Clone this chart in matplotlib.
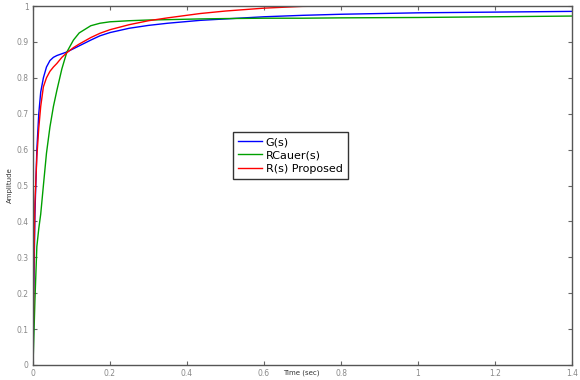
import matplotlib
matplotlib.use("Agg")
import matplotlib.pyplot as plt

# Step response data
time = [0, 0.002, 0.005, 0.01, 0.015, 0.02, 0.027, 0.035, 0.044, 0.053, 0.062,
        0.075, 0.088, 0.105, 0.12, 0.15, 0.174, 0.2, 0.25, 0.3, 0.35, 0.434,
        0.5, 0.6, 0.7, 0.8, 1.0, 1.2, 1.4]
g_s = [0, 0.2, 0.42, 0.6, 0.7, 0.76, 0.80, 0.83, 0.848, 0.857, 0.862,
       0.867, 0.872, 0.881, 0.889, 0.905, 0.917, 0.926, 0.938, 0.946, 0.952, 0.960,
       0.964, 0.970, 0.974, 0.977, 0.981, 0.983, 0.985]
r_cauer = [0, 0.07, 0.18, 0.33, 0.38, 0.42, 0.50, 0.59, 0.663, 0.72, 0.765,
           0.825, 0.872, 0.905, 0.925, 0.945, 0.952, 0.956, 0.959, 0.961, 0.962, 0.964,
           0.965, 0.966, 0.966, 0.967, 0.968, 0.970, 0.972]
r_proposed = [0, 0.25, 0.45, 0.58, 0.66, 0.72, 0.775, 0.80, 0.818, 0.83, 0.84,
              0.857, 0.870, 0.884, 0.894, 0.912, 0.924, 0.934, 0.948, 0.959, 0.967, 0.979,
              0.986, 0.994, 0.999, 1.0, 1.0, 1.0, 1.0]

x_ticks = [0, 0.2, 0.4, 0.6, 0.8, 1, 1.2, 1.4]
x_labels = ["0", "0.2", "0.4", "0.6", "0.8", "1", "1.2", "1.4"]
y_ticks = [0, 0.1, 0.2, 0.3, 0.4, 0.5, 0.6, 0.7, 0.8, 0.9, 1]
y_labels = ["0", "0.1", "0.2", "0.3", "0.4", "0.5", "0.6", "0.7", "0.8", "0.9", "1"]

fig = plt.figure(figsize=(5.8, 3.8), dpi=100)
ax = fig.add_axes([33 / 580, 15 / 380, 539 / 580, 359 / 380])

ax.plot(time, g_s, color="#0000ff", lw=1.0, label="G(s)")
ax.plot(time, r_cauer, color="#00a000", lw=1.0, label="RCauer(s)")
ax.plot(time, r_proposed, color="#ff0000", lw=1.0, label="R(s) Proposed")

ax.set_xlim(0, 1.4)
ax.set_ylim(0, 1)
ax.set_xticks(x_ticks)
ax.set_xticklabels(x_labels)
ax.set_yticks(y_ticks)
ax.set_yticklabels(y_labels)
ax.tick_params(direction="in", length=3, width=0.8, colors="#666666",
               labelcolor="#888888", labelsize=5.5, top=True, right=True, pad=3)

for sp in ax.spines.values():
    sp.set_color("#555555")
    sp.set_linewidth(1.0)

ax.set_xlabel("Time (sec)", fontsize=5, color="#333333")
ax.xaxis.set_label_coords(0.498, -0.012)
ax.set_ylabel("Amplitude", fontsize=5, color="#333333")
ax.yaxis.set_label_coords(-0.038, 0.5)

leg = ax.legend(loc="upper left", bbox_to_anchor=(0.371, 0.649), fontsize=8,
                frameon=True, fancybox=False, handlelength=2.2,
                borderpad=0.45, labelspacing=0.3, handletextpad=0.3,
                borderaxespad=0)
leg.get_frame().set_edgecolor("black")
leg.get_frame().set_linewidth(1.0)

fig.savefig("out.png", dpi=100)
